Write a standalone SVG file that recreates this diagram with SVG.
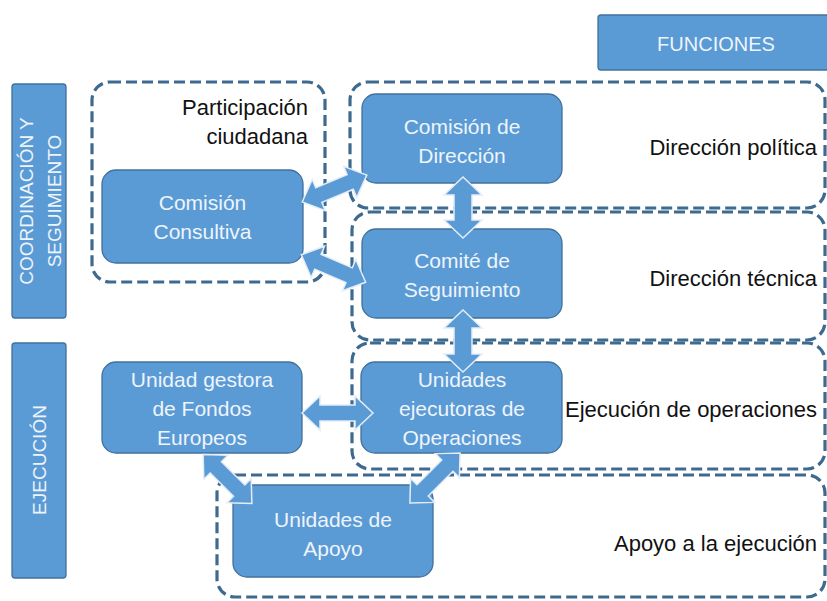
<svg xmlns="http://www.w3.org/2000/svg" width="827" height="601" viewBox="0 0 827 601">
<style>
.bg{fill:#ffffff}
.node{fill:#5b9bd5;stroke:#41719c;stroke-width:1.3}
.dash{fill:none;stroke:#3e6a8f;stroke-width:3.2;stroke-dasharray:11 5}
.arrow{fill:#5b9bd5;stroke:#e4edf7;stroke-width:1.5;stroke-linejoin:miter}
.nt{font-family:"Liberation Sans",Arial,sans-serif;font-size:21px;fill:#eef4fb;text-anchor:middle}
.lt{font-family:"Liberation Sans",Arial,sans-serif;font-size:22px;fill:#111111}
.vt{font-family:"Liberation Sans",Arial,sans-serif;font-size:19px;fill:#eef4fb;text-anchor:middle}
</style>
<rect class="bg" x="0" y="0" width="827" height="601"/>

<g id="dashed-boxes">
<rect class="dash" x="92" y="82" width="233" height="200" rx="18"/>
<rect class="dash" x="350" y="82" width="475" height="126" rx="18"/>
<rect class="dash" x="352" y="212" width="473" height="128" rx="18"/>
<rect class="dash" x="352" y="343" width="473" height="126" rx="18"/>
<rect class="dash" x="217" y="475" width="608" height="122" rx="18"/>
</g>

<g id="funciones">
<rect class="node" x="598" y="15" width="235" height="55" rx="3"/>
<text class="vt" x="716" y="51" style="font-size:20px">FUNCIONES</text>
</g>

<g id="bar-coordinacion">
<rect class="node" x="12" y="84" width="54" height="234" rx="3"/>
<text class="vt" transform="translate(33,201) rotate(-90)">COORDINACIÓN Y</text>
<text class="vt" transform="translate(61,201) rotate(-90)">SEGUIMIENTO</text>
</g>

<g id="bar-ejecucion">
<rect class="node" x="12" y="343" width="54" height="235" rx="3"/>
<text class="vt" transform="translate(46,460) rotate(-90)">EJECUCIÓN</text>
</g>

<g id="label-participacion">
<text class="lt" x="308" y="115" text-anchor="end">Participación</text>
<text class="lt" x="308" y="144" text-anchor="end">ciudadana</text>
</g>
<g id="label-direccion-politica"><text class="lt" x="817" y="155" text-anchor="end">Dirección política</text></g>
<g id="label-direccion-tecnica"><text class="lt" x="817" y="286" text-anchor="end">Dirección técnica</text></g>
<g id="label-ejecucion-operaciones"><text class="lt" x="817" y="417" text-anchor="end">Ejecución de operaciones</text></g>
<g id="label-apoyo"><text class="lt" x="817" y="551" text-anchor="end">Apoyo a la ejecución</text></g>

<g id="comision-direccion">
<rect class="node" x="362" y="94" width="200" height="89" rx="14"/>
<text class="nt" x="462" y="134">Comisión de</text>
<text class="nt" x="462" y="163">Dirección</text>
</g>

<g id="comision-consultiva">
<rect class="node" x="102" y="170" width="201" height="93" rx="14"/>
<text class="nt" x="202.5" y="210">Comisión</text>
<text class="nt" x="202.5" y="239">Consultiva</text>
</g>

<g id="comite-seguimiento">
<rect class="node" x="362" y="229" width="200" height="89" rx="14"/>
<text class="nt" x="462" y="268">Comité de</text>
<text class="nt" x="462" y="297">Seguimiento</text>
</g>

<g id="unidad-gestora">
<rect class="node" x="102" y="362" width="200" height="91" rx="14"/>
<text class="nt" x="202" y="387">Unidad gestora</text>
<text class="nt" x="202" y="416">de Fondos</text>
<text class="nt" x="202" y="445">Europeos</text>
</g>

<g id="unidades-ejecutoras">
<rect class="node" x="361" y="362" width="201" height="91" rx="14"/>
<text class="nt" x="462" y="387">Unidades</text>
<text class="nt" x="462" y="416">ejecutoras de</text>
<text class="nt" x="462" y="445">Operaciones</text>
</g>

<g id="unidades-apoyo">
<rect class="node" x="233" y="485" width="200" height="92" rx="14"/>
<text class="nt" x="333" y="527">Unidades de</text>
<text class="nt" x="333" y="556">Apoyo</text>
</g>

<g id="connectors">
<polygon class="arrow" transform="translate(334.5,188.5) rotate(-22.6)" points="-35,0 -17,-17 -17,-8 17,-8 17,-17 35,0 17,17 17,8 -17,8 -17,17"/>
<polygon class="arrow" transform="translate(333.5,268.5) rotate(23.2)" points="-35,0 -17,-17 -17,-8 17,-8 17,-17 35,0 17,17 17,8 -17,8 -17,17"/>
<polygon class="arrow" transform="translate(463,207.5) rotate(90)" points="-30.5,0 -12.5,-19 -12.5,-9 12.5,-9 12.5,-19 30.5,0 12.5,19 12.5,9 -12.5,9 -12.5,19"/>
<polygon class="arrow" transform="translate(463,341) rotate(90)" points="-31,0 -13,-19 -13,-9 13,-9 13,-19 31,0 13,19 13,9 -13,9 -13,19"/>
<polygon class="arrow" transform="translate(337.5,413)" points="-35.5,0 -17.5,-17 -17.5,-8 17.5,-8 17.5,-17 35.5,0 17.5,17 17.5,8 -17.5,8 -17.5,17"/>
<polygon class="arrow" transform="translate(227.5,479) rotate(45)" points="-34.5,0 -16.5,-17 -16.5,-8 16.5,-8 16.5,-17 34.5,0 16.5,17 16.5,8 -16.5,8 -16.5,17"/>
<polygon class="arrow" transform="translate(435,478) rotate(135)" points="-35.5,0 -17.5,-17 -17.5,-8 17.5,-8 17.5,-17 35.5,0 17.5,17 17.5,8 -17.5,8 -17.5,17"/>
</g>
</svg>
